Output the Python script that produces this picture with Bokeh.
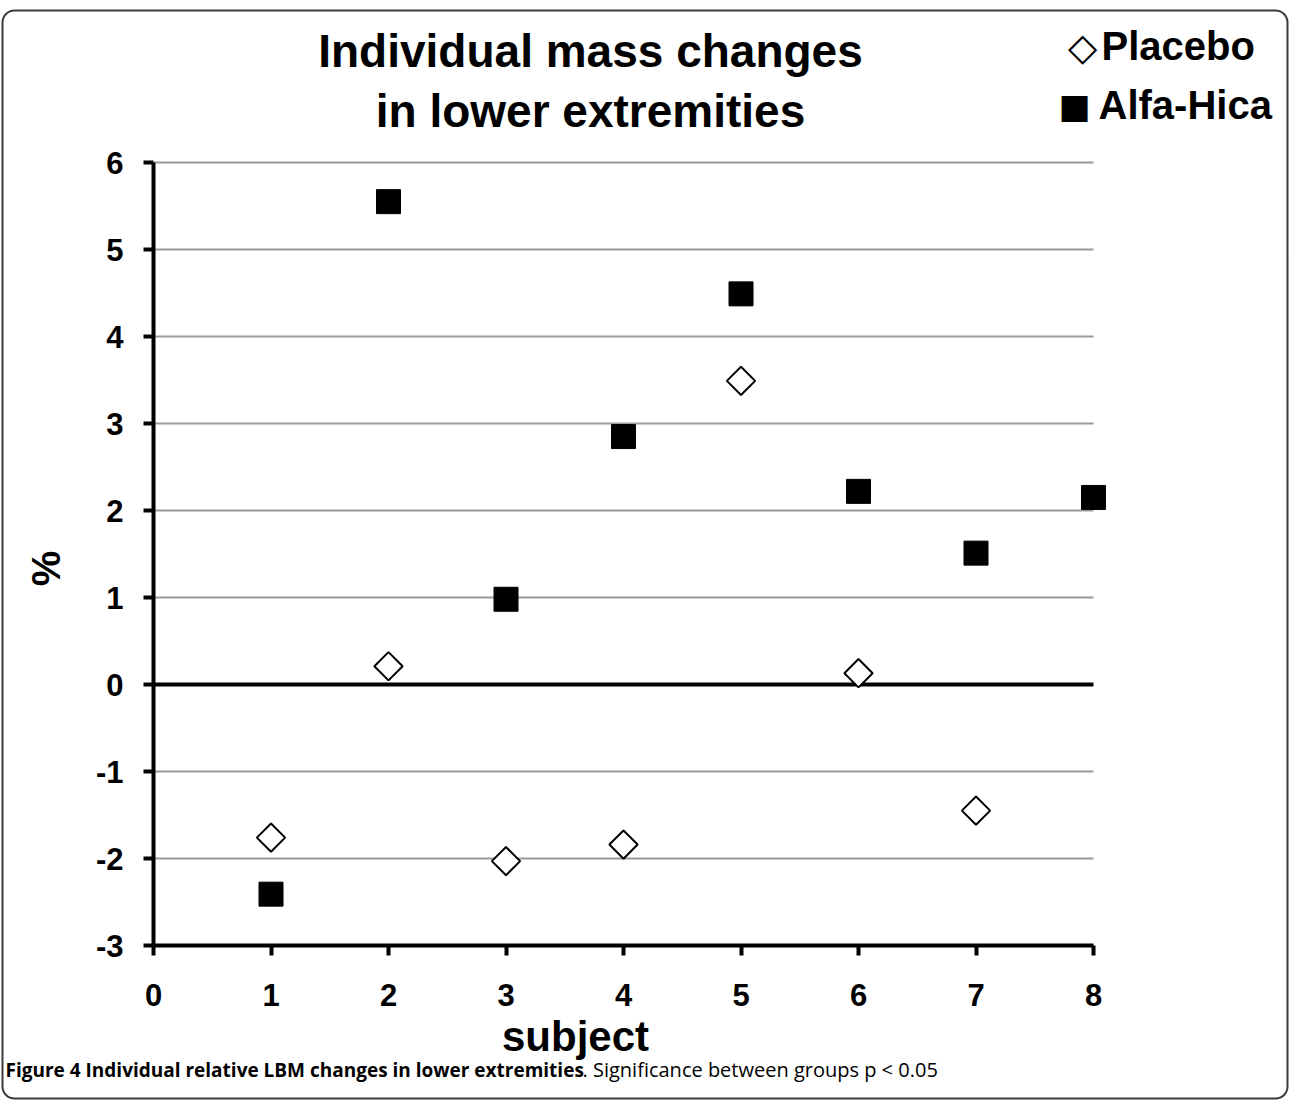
from bokeh.plotting import figure
from bokeh.models import Range1d, FixedTicker, Label, BoxAnnotation, ColumnDataSource
from bokeh.embed import file_html
from bokeh.resources import INLINE
import math

# ---- data ----
subjects_placebo = [1, 2, 3, 4, 5, 6, 7]
placebo = [-1.76, 0.21, -2.03, -1.84, 3.49, 0.13, -1.45]
subjects_alfa = [1, 2, 3, 4, 5, 6, 7, 8]
alfa_hica = [-2.41, 5.55, 0.98, 2.85, 4.49, 2.22, 1.51, 2.15]
x_ticks = [0, 1, 2, 3, 4, 5, 6, 7, 8]
y_ticks = [-3, -2, -1, 0, 1, 2, 3, 4, 5, 6]
x_tick_labels = [str(t) for t in x_ticks]
y_tick_labels = [str(t) for t in y_ticks]

W, H = 1290, 1100
# pixel layout of the plotting area (canvas px)
X0PX, X8PX = 153.0, 1093.0     # x = 0 .. 8
YTOP, YBOT = 162.0, 945.0      # y = 6 .. -3
SX = (X8PX - X0PX) / (x_ticks[-1] - x_ticks[0])
SY = (YBOT - YTOP) / (y_ticks[-1] - y_ticks[0])


def xd(px):
    return x_ticks[0] + (px - X0PX) / SX


def yd(py):
    return y_ticks[-1] - (py - YTOP) / SY


p = figure(width=W, height=H, output_backend="svg", toolbar_location=None,
           x_range=Range1d(xd(0), xd(W)), y_range=Range1d(yd(H), yd(0)),
           min_border=0, min_border_left=0, min_border_right=0,
           min_border_top=0, min_border_bottom=0)
p.outline_line_color = None
p.background_fill_color = "white"
p.border_fill_color = "white"

FONT = "Liberation Sans"

for ax in (p.xaxis[0], p.yaxis[0]):
    ax.axis_line_width = 4
    ax.axis_line_color = "black"
    ax.major_tick_line_width = 4
    ax.major_tick_line_color = "black"
    ax.major_tick_out = 10
    ax.major_tick_in = 0
    ax.minor_tick_line_color = None
    ax.major_label_text_font = FONT
    ax.major_label_text_font_style = "bold"
    ax.major_label_text_font_size = "31px"
    ax.major_label_text_color = "black"

p.xaxis.ticker = FixedTicker(ticks=x_ticks)
p.yaxis.ticker = FixedTicker(ticks=y_ticks)
p.xaxis.major_label_overrides = dict(zip(x_ticks, x_tick_labels))
p.yaxis.major_label_overrides = dict(zip(y_ticks, y_tick_labels))
p.xaxis.bounds = (x_ticks[0], x_ticks[-1])
p.yaxis.bounds = (y_ticks[0], y_ticks[-1])
p.xaxis.fixed_location = y_ticks[0]
p.yaxis.fixed_location = x_ticks[0]
p.xaxis.major_label_standoff = 28
p.yaxis.major_label_standoff = 20

p.xgrid.grid_line_color = None
p.ygrid.grid_line_color = None

# horizontal grid lines between x = 0 and x = 8
grid_y = [t for t in y_ticks if t not in (0, y_ticks[0])]
p.segment(x0=[x_ticks[0]] * len(grid_y), y0=grid_y, x1=[x_ticks[-1]] * len(grid_y), y1=grid_y,
          line_color="#999999", line_width=2)
# zero line
p.segment(x0=[x_ticks[0]], y0=[0], x1=[x_ticks[-1]], y1=[0], line_color="black", line_width=4)

src_p = ColumnDataSource(dict(x=subjects_placebo, y=placebo))
src_a = ColumnDataSource(dict(x=subjects_alfa, y=alfa_hica))
p.scatter("x", "y", source=src_p, marker="square", angle=math.pi / 4, size=20,
          fill_color="white", line_color="black", line_width=2)
p.scatter("x", "y", source=src_a, marker="square", size=24,
          fill_color="black", line_color="black", line_width=1)


def lab(text, X, Y, size, style="bold", align="center", baseline="middle", angle=0, font=FONT):
    p.add_layout(Label(x=xd(X), y=yd(Y), text=text,
                       text_font=font, text_font_style=style, text_font_size=size,
                       text_align=align, text_baseline=baseline, angle=angle,
                       text_color="black"))


# title
lab("Individual mass changes", 590, 50, "46px")
lab("in lower extremities", 590, 110, "46px")

# legend
lab("\u25c7", 1082, 46, "38px", style="normal", font="DejaVu Sans")
lab("Placebo", 1101, 45, "40px", align="left")
lab("\u25a0", 1074, 105, "34px", style="normal", font="DejaVu Sans")
lab("Alfa-Hica", 1098, 104, "40px", align="left")

# axis titles
lab("%", 45, 568, "40px", angle=math.pi / 2)
lab("subject", 575, 1036, "42px")

# caption
lab("Figure 4 Individual relative LBM changes in lower extremities", 5, 1069, "19px",
    align="left", font="Open Sans")
lab(". Significance between groups p < 0.05", 582, 1069, "20px", style="normal",
    align="left", font="Open Sans")

# outer border
p.add_layout(BoxAnnotation(left=xd(2), right=xd(1287), top=yd(10), bottom=yd(1098),
                           fill_color=None, fill_alpha=0, line_color="#3a3a3a",
                           line_alpha=1.0, line_width=2, border_radius=12))

open("out.html", "w").write(file_html(p, INLINE))
